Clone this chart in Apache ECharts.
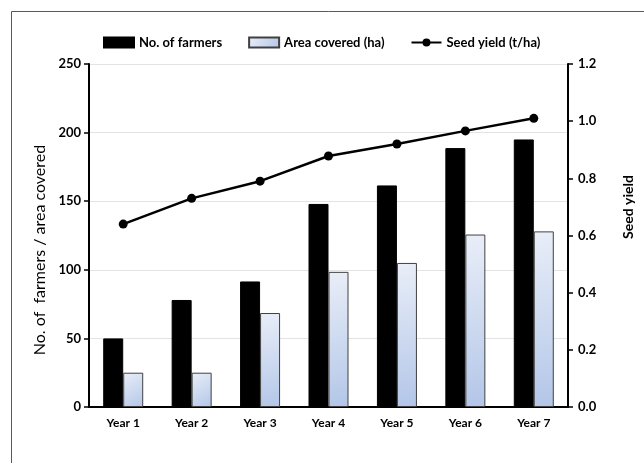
<!DOCTYPE html>
<html>
<head>
<meta charset="utf-8" />
<title>Farmers, area and seed yield</title>
<script src="https://cdn.jsdelivr.net/npm/echarts@6/dist/echarts.min.js"></script>
<style>
  html, body { margin: 0; padding: 0; background: #fff; }
  #chart { width: 644px; height: 463px; }
</style>
</head>
<body>
<div id="chart"></div>
<script>
  // 数据
  var years = ['Year 1', 'Year 2', 'Year 3', 'Year 4', 'Year 5', 'Year 6', 'Year 7'];
  var farmers = [50, 78, 91.5, 148, 161.5, 188.7, 195];
  var area = [25, 25, 68.5, 98.5, 105, 125.7, 128];
  var seedYield = [0.64, 0.73, 0.79, 0.878, 0.92, 0.966, 1.01];

  var font = 'Lato';
  var chart = echarts.init(document.getElementById('chart'));
  var option = {
    animation: false,
    textStyle: { fontFamily: font },
    graphic: [
      { type: 'rect', shape: { x: 11.5, y: 11.5, width: 700, height: 600 },
        style: { fill: 'none', stroke: '#595959', lineWidth: 1 }, silent: true },
      { type: 'text', x: 40, y: 250, rotation: Math.PI / 2, silent: true,
        style: { text: 'No. of  farmers / area covered', fontFamily: font, fontSize: 16,
          fill: '#000', align: 'center', verticalAlign: 'middle' } },
      { type: 'text', x: 628, y: 207, rotation: Math.PI / 2, silent: true,
        style: { text: 'Seed yield', fontFamily: font, fontSize: 14, fontWeight: 'bold',
          fill: '#000', align: 'center', verticalAlign: 'middle' } }
    ],
    legend: {
      top: 31, left: 98,
      itemWidth: 30, itemHeight: 10, itemGap: 26,
      textStyle: { fontFamily: font, fontSize: 13, fontWeight: 'bold', color: '#000' },
      data: [
        { name: 'No. of farmers', icon: 'rect' },
        { name: 'Area covered (ha)', icon: 'rect' },
        { name: 'Seed yield (t/ha)' }
      ]
    },
    grid: { left: 89, right: 76, top: 64, bottom: 56 },
    xAxis: {
      type: 'category', data: years,
      axisLine: { lineStyle: { color: '#000', width: 2 } },
      axisTick: { show: false },
      axisLabel: { color: '#000', fontWeight: 'bold', fontSize: 12, margin: 10 }
    },
    yAxis: [
      {
        type: 'value', min: 0, max: 250, interval: 50,
        axisLine: { show: true, lineStyle: { color: '#000', width: 2 } },
        axisTick: { show: true, length: 5, lineStyle: { color: '#000', width: 1.5 } },
        axisLabel: { color: '#000', fontWeight: 'bold', fontSize: 13, margin: 8 },
        splitLine: { lineStyle: { color: '#e3e3e3', width: 1 } }
      },
      {
        type: 'value', min: 0, max: 1.2, interval: 0.2, position: 'right',
        axisLine: { show: true, lineStyle: { color: '#000', width: 2 } },
        axisTick: { show: true, length: 5, lineStyle: { color: '#000', width: 1.5 } },
        axisLabel: { color: '#000', fontWeight: 'bold', fontSize: 13, margin: 10,
          formatter: function (v) { return v.toFixed(1); } },
        splitLine: { show: false }
      }
    ],
    series: [
      {
        name: 'No. of farmers', type: 'bar', data: farmers,
        barWidth: 20, barGap: '0%',
        itemStyle: { color: '#000', borderColor: '#000', borderWidth: 1 }
      },
      {
        name: 'Area covered (ha)', type: 'bar', data: area,
        barWidth: 20,
        itemStyle: {
          color: new echarts.graphic.LinearGradient(0, 0, 1, 1, [
            { offset: 0, color: '#e9eef8' },
            { offset: 1, color: '#b3c6e8' }
          ]),
          borderColor: '#404040', borderWidth: 1
        }
      },
      {
        name: 'Seed yield (t/ha)', type: 'line', yAxisIndex: 1, data: seedYield,
        symbol: 'circle', symbolSize: 9,
        lineStyle: { color: '#000', width: 2.5 },
        itemStyle: { color: '#000' }
      }
    ]
  };
  chart.setOption(option);
</script>
</body>
</html>
